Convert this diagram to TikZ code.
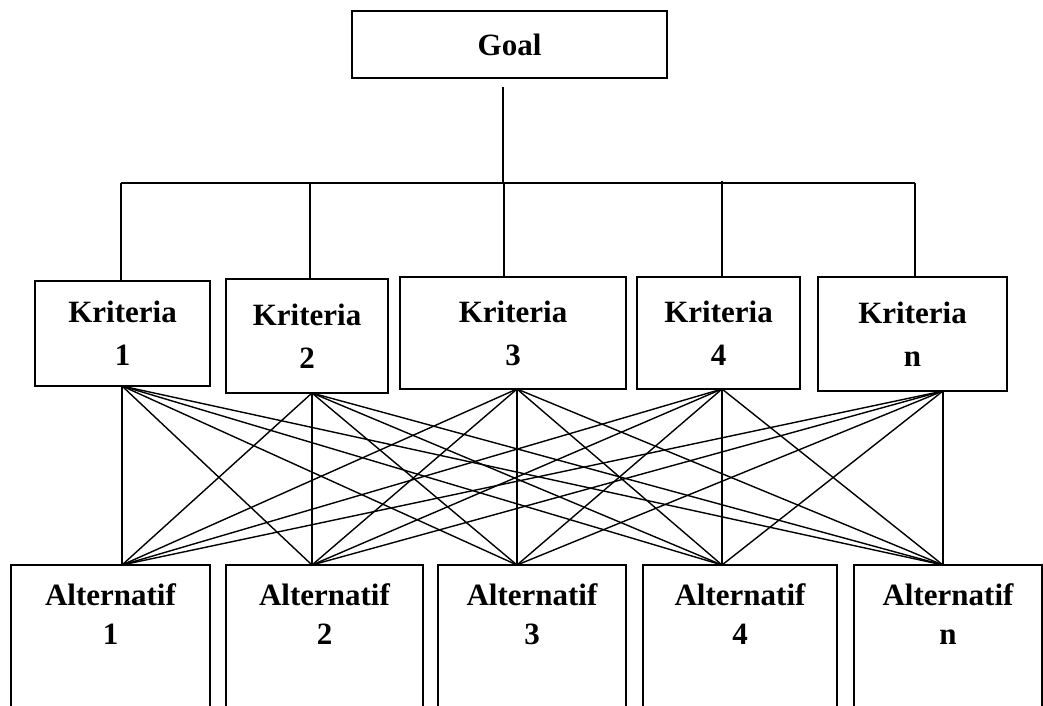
\documentclass[tikz,border=0pt]{standalone}
\usepackage{fontspec}
\setmainfont{Liberation Serif}
\begin{document}
\begin{tikzpicture}[x=1pt,y=-1pt,
  box/.style={draw, line width=1.5pt, rectangle, inner sep=0pt, outer sep=0pt},
  ktxt/.style={font=\bfseries\fontsize{31}{43}\selectfont, align=center, inner sep=0pt},
  atxt/.style={font=\bfseries\fontsize{31}{39}\selectfont, align=center, inner sep=0pt, anchor=north},
  link/.style={line width=1.4pt}]
\useasboundingbox (0,0) rectangle (1043,706);
\clip (0,0) rectangle (1043,706);

% Goal
\node[box, ktxt, minimum width=315pt, minimum height=67pt] (goal) at (509.5,44.5) {Goal};

% Kriteria boxes
\node[box, ktxt, minimum width=175pt, minimum height=105pt] (k1) at (122.5,333.5) {Kriteria\\1};
\node[box, ktxt, minimum width=162pt, minimum height=114pt] (k2) at (307,336) {Kriteria\\2};
\node[box, ktxt, minimum width=226pt, minimum height=112pt] (k3) at (513,333) {Kriteria\\3};
\node[box, ktxt, minimum width=163pt, minimum height=112pt] (k4) at (718.5,333) {Kriteria\\4};
\node[box, ktxt, minimum width=189pt, minimum height=114pt] (k5) at (912.5,334) {Kriteria\\n};

% Alternatif boxes
\node[box, minimum width=199pt, minimum height=155pt] (a1) at (110.5,642.5) {};
\node[box, minimum width=197pt, minimum height=155pt] (a2) at (324.5,642.5) {};
\node[box, minimum width=188pt, minimum height=155pt] (a3) at (532,642.5) {};
\node[box, minimum width=194pt, minimum height=155pt] (a4) at (740,642.5) {};
\node[box, minimum width=188pt, minimum height=155pt] (a5) at (948,642.5) {};
\node[atxt] (a1t) at (110.5,583) {Alternatif\\1};
\node[atxt] (a2t) at (324.5,583) {Alternatif\\2};
\node[atxt] (a3t) at (532,583) {Alternatif\\3};
\node[atxt] (a4t) at (740,583) {Alternatif\\4};
\node[atxt] (a5t) at (948,583) {Alternatif\\n};

% Tree from goal to criteria
\coordinate (gtop) at (503,87);
\coordinate (hub) at (503,183);
\coordinate (d1) at (121,183);
\coordinate (d2) at (310,183);
\coordinate (d3) at (504,183);
\coordinate (d4) at (722,181);
\coordinate (d5) at (915,183);
\draw[link] (gtop) -- (hub);
\draw[link] (d1) -- (d5);
\foreach \i in {1,...,5} {
  \draw[link] (d\i) -- (d\i |- k\i.north);
}

% Criteria to alternatives
\coordinate (c1) at (122,0);
\coordinate (c2) at (312,0);
\coordinate (c3) at (517,0);
\coordinate (c4) at (722,0);
\coordinate (c5) at (943,0);
\foreach \i in {1,...,5} {
  \coordinate (kb\i) at (k\i.south -| c\i);
  \coordinate (ab\i) at (a\i.north -| c\i);
}
\foreach \i in {1,...,5} {
  \foreach \j in {1,...,5} {
    \draw[link] (kb\i) -- (ab\j);
  }
}
\end{tikzpicture}
\end{document}
